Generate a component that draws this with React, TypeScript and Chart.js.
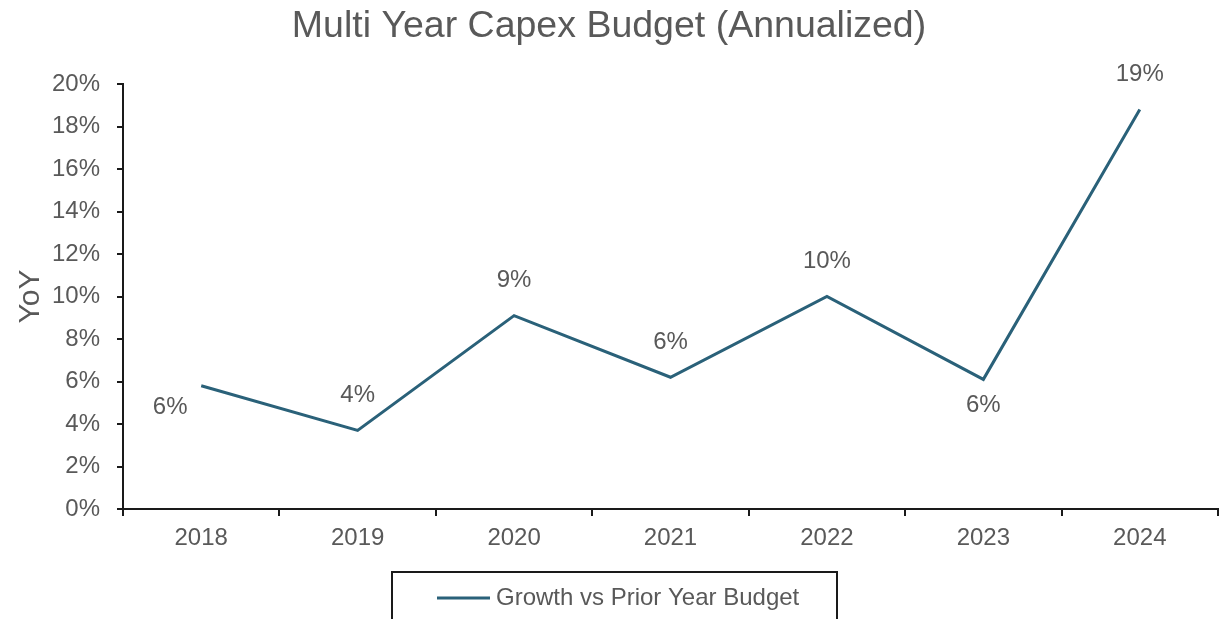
import React, { useEffect, useRef } from "react";
import { Chart, registerables } from "chart.js";

Chart.register(...registerables);

const years = ["2018", "2019", "2020", "2021", "2022", "2023", "2024"];
const growth = [5.8, 3.7, 9.1, 6.2, 10.0, 6.1, 18.8];
const growthLabels = ["6%", "4%", "9%", "6%", "10%", "6%", "19%"];
const labelPlacement = ["belowLeft", "above", "above", "above", "above", "below", "above"];
const seriesName = "Growth vs Prior Year Budget";
const chartTitle = "Multi Year Capex Budget (Annualized)";
const yAxisTitle = "YoY";

const LINE_COLOR = "#2a6179";
const TEXT_COLOR = "#595959";
const AXIS_COLOR = "#1a1a1a";
const FONT = "'Liberation Sans', Arial, sans-serif";

const labelPlugin = {
  id: "pointLabels",
  afterDatasetsDraw(chart: any) {
    const meta = chart.getDatasetMeta(0);
    const ctx = chart.ctx;
    ctx.save();
    ctx.font = `24px ${FONT}`;
    ctx.fillStyle = TEXT_COLOR;
    ctx.textAlign = "center";
    ctx.textBaseline = "middle";
    meta.data.forEach((pt: any, i: number) => {
      const place = labelPlacement[i];
      let dx = 0;
      let dy = -35;
      if (place === "below") dy = 26;
      if (place === "belowLeft") {
        dx = -31;
        dy = 22;
      }
      ctx.fillText(growthLabels[i], pt.x + dx, pt.y + dy);
    });
    ctx.restore();
  },
};

const legendBoxPlugin = {
  id: "legendBox",
  afterDraw(chart: any) {
    const ctx = chart.ctx;
    const cx = chart.width / 2;
    const left = cx - 222;
    const right = cx + 223;
    const top = 572;
    ctx.save();
    ctx.strokeStyle = AXIS_COLOR;
    ctx.lineWidth = 2;
    ctx.strokeRect(left, top, right - left, 60);
    const ly = 598;
    ctx.strokeStyle = LINE_COLOR;
    ctx.lineWidth = 3;
    ctx.beginPath();
    ctx.moveTo(left + 45, ly);
    ctx.lineTo(left + 98, ly);
    ctx.stroke();
    ctx.font = `24px ${FONT}`;
    ctx.fillStyle = TEXT_COLOR;
    ctx.textAlign = "left";
    ctx.textBaseline = "middle";
    ctx.fillText(seriesName, left + 104, ly);
    ctx.restore();
  },
};

export default function App() {
  const ref = useRef<HTMLCanvasElement | null>(null);
  useEffect(() => {
    if (!ref.current) return;
    const chart = new Chart(ref.current, {
      type: "line",
      data: {
        labels: years,
        datasets: [
          {
            label: seriesName,
            data: growth,
            borderColor: LINE_COLOR,
            backgroundColor: LINE_COLOR,
            borderWidth: 3,
            pointRadius: 0,
            tension: 0,
          },
        ],
      },
      options: {
        animation: false,
        responsive: true,
        maintainAspectRatio: false,
        layout: { padding: { left: 0, right: 10, top: 0, bottom: 0 } },
        plugins: {
          legend: { display: false },
          tooltip: { enabled: false },
          title: {
            display: true,
            text: chartTitle,
            color: TEXT_COLOR,
            font: { family: FONT, size: 37.5, weight: "normal" },
            padding: { top: 4, bottom: 35 },
          },
        },
        scales: {
          x: {
            offset: true,
            grid: {
              offset: true,
              drawOnChartArea: false,
              drawTicks: true,
              tickLength: 7,
              color: AXIS_COLOR,
              lineWidth: 2,
            },
            border: { display: true, color: AXIS_COLOR, width: 2 },
            ticks: {
              color: TEXT_COLOR,
              font: { family: FONT, size: 24 },
              padding: 8,
              maxRotation: 0,
            },
            afterFit(scale: any) {
              scale.height = 110;
            },
          },
          y: {
            min: 0,
            max: 20,
            grid: {
              drawOnChartArea: false,
              drawTicks: true,
              tickLength: 6,
              color: AXIS_COLOR,
              lineWidth: 2,
            },
            border: { display: true, color: AXIS_COLOR, width: 2 },
            ticks: {
              stepSize: 2,
              color: TEXT_COLOR,
              font: { family: FONT, size: 24 },
              padding: 17,
              callback: (v: any) => `${v}%`,
            },
            title: {
              display: true,
              text: yAxisTitle,
              color: TEXT_COLOR,
              font: { family: FONT, size: 30 },
              padding: { top: 13, bottom: 0 },
            },
            afterFit(scale: any) {
              scale.width = 123;
            },
          },
        },
      },
      plugins: [labelPlugin, legendBoxPlugin],
    } as any);
    return () => chart.destroy();
  }, []);

  return (
    <div style={{ position: "absolute", left: 0, top: 0, width: 1228, height: 619, background: "#fff" }}>
      <canvas ref={ref} />
    </div>
  );
}
